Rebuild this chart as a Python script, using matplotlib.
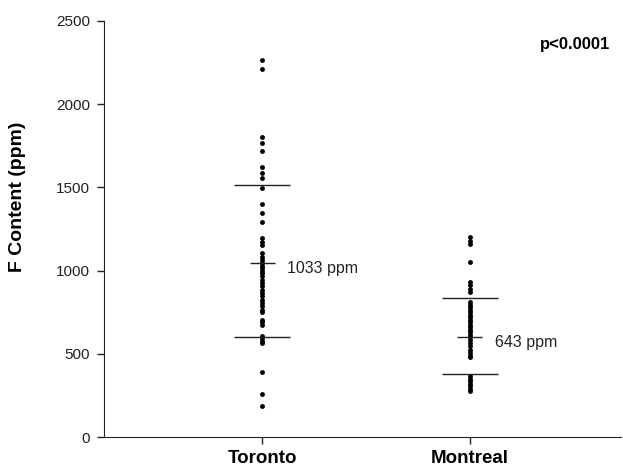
import matplotlib
matplotlib.use("Agg")
import matplotlib.pyplot as plt

plt.rcParams['font.family'] = ['Liberation Sans', 'DejaVu Sans']

categories = ["Toronto", "Montreal"]

toronto = [2266, 2210, 1804, 1768, 1721, 1620, 1586, 1556, 1496, 1399, 1345, 1294,
           1194, 1175, 1153, 1105, 1085, 1063, 1045, 1030, 1015, 1000, 985, 965,
           945, 925, 905, 885, 865, 845, 825, 805, 785, 765, 750, 705, 690, 675,
           610, 595, 580, 565, 394, 258, 187]
montreal = [1204, 1180, 1163, 1053, 932, 912, 892, 872, 811, 795, 780, 765, 750,
            735, 720, 705, 690, 675, 660, 645, 630, 615, 600, 585, 565, 545, 525,
            505, 490, 479, 368, 350, 335, 320, 305, 290, 280]

# mean line, lower SD line, upper SD line (as drawn)
toronto_lines = [1045, 604, 1512]
montreal_lines = [604, 379, 835]
mean_labels = ["1033 ppm", "643 ppm"]
p_text = "p<0.0001"

fig = plt.figure(figsize=(6.23, 4.66), dpi=100)
ax = fig.add_axes([0.167, 0.062, 0.83, 0.893])

groups = [toronto, montreal]
lines = [toronto_lines, montreal_lines]
for i, (vals, ln, lab) in enumerate(zip(groups, lines, mean_labels)):
    x = i + 1
    ax.plot([x] * len(vals), vals, 'o', color='black', ms=3.5, mec='black', mew=0)
    mean, lo, hi = ln
    ax.hlines(mean, x - 0.06, x + 0.06, color='#222222', lw=1)
    ax.hlines([lo, hi], x - 0.135, x + 0.135, color='#222222', lw=1)
    ax.text(x + 0.12, mean - 35, lab, fontsize=11.5, va='center', ha='left', color='#222222')

ax.set_xlim(0.237, 2.73)
ax.set_ylim(0, 2500)
ax.set_yticks([0, 500, 1000, 1500, 2000, 2500])
ax.set_xticks([1, 2])
ax.set_xticklabels(categories, fontsize=13.5, fontweight='bold')
ax.tick_params(axis='y', labelsize=11, direction='out', length=5, width=1, pad=5, colors='#222222')
ax.tick_params(axis='x', direction='out', length=5, width=1, pad=4, colors='#222222')
for lbl in ax.get_xticklabels():
    lbl.set_color('black')
for lbl in ax.get_yticklabels():
    lbl.set_color('#222222')
ax.spines['top'].set_visible(False)
ax.spines['right'].set_visible(False)
ax.spines['left'].set_color('#222222')
ax.spines['bottom'].set_color('#222222')

fig.text(18 / 623, 1 - 197 / 466, "F Content (ppm)", rotation=90, fontsize=14,
         fontweight='bold', ha='center', va='center')
fig.text(610 / 623, 1 - 44 / 466, p_text, fontsize=12, fontweight='bold',
         ha='right', va='center')

fig.savefig("out.png", dpi=100)
